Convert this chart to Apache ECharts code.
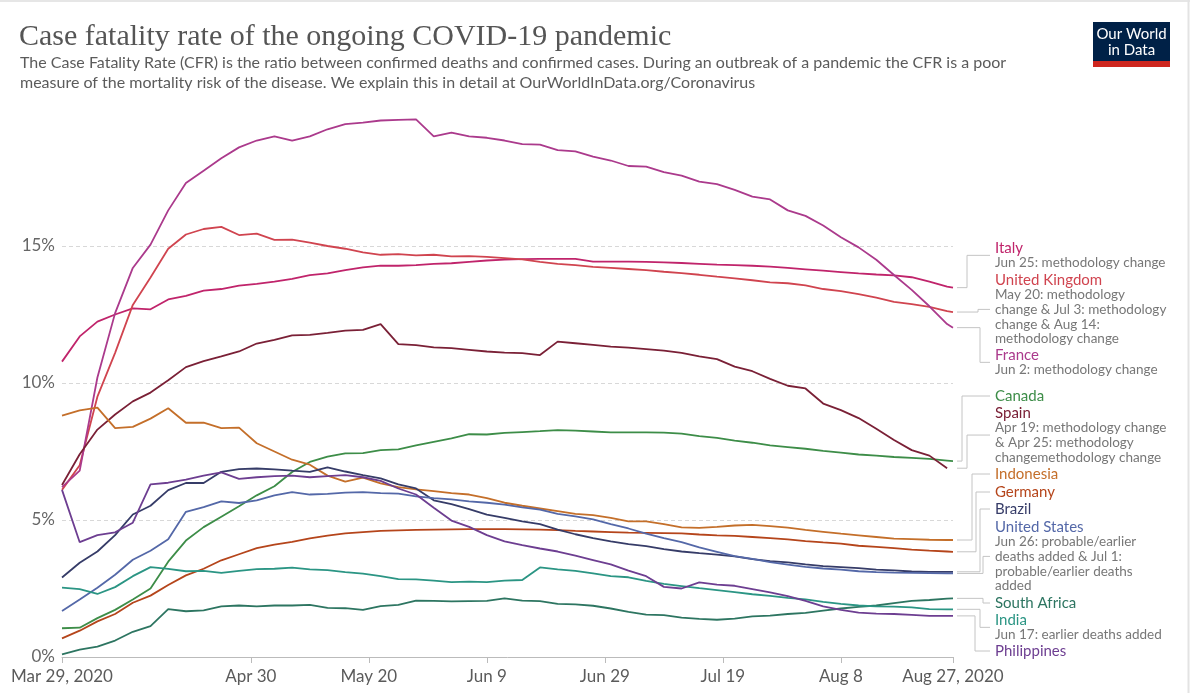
<!DOCTYPE html>
<html><head><meta charset="utf-8">
<script src="https://cdn.jsdelivr.net/npm/echarts@6/dist/echarts.min.js"></script>
<style>html,body{margin:0;padding:0;background:#fff}#c{width:1200px;height:693px}</style>
</head><body><div id="c"></div>
<script>
// Days since Mar 29, 2020 (sampled every 3 days, plus the last day)
const days = [0,3,6,9,12,15,18,21,24,27,30,33,36,39,42,45,48,51,54,57,60,63,66,69,72,75,78,81,84,87,90,93,96,99,102,105,108,111,114,117,120,123,126,129,132,135,138,141,144,147,150,151];

const france = [6.2,6.8,10.2,12.55,14.2,15.05,16.3,17.3,17.75,18.2,18.6,18.85,19.0,18.85,19.0,19.26,19.45,19.5,19.58,19.6,19.62,19.0,19.14,19.0,18.95,18.85,18.72,18.7,18.5,18.45,18.26,18.12,17.92,17.9,17.7,17.57,17.35,17.26,17.05,16.8,16.7,16.3,16.1,15.75,15.32,14.95,14.5,13.94,13.4,12.8,12.15,12.02];
const italy = [10.78,11.7,12.24,12.5,12.72,12.69,13.05,13.18,13.37,13.43,13.55,13.62,13.7,13.8,13.94,14.0,14.12,14.22,14.28,14.28,14.3,14.35,14.37,14.42,14.47,14.5,14.52,14.53,14.53,14.53,14.43,14.43,14.43,14.42,14.4,14.38,14.35,14.32,14.3,14.28,14.25,14.2,14.15,14.1,14.05,14.0,13.96,13.93,13.86,13.7,13.52,13.48];
const unitedKingdom = [6.1,7.0,9.5,11.1,12.85,13.85,14.9,15.42,15.62,15.7,15.4,15.45,15.22,15.23,15.12,15.0,14.9,14.77,14.68,14.7,14.66,14.68,14.62,14.63,14.6,14.56,14.51,14.42,14.35,14.3,14.24,14.2,14.16,14.12,14.06,14.01,13.95,13.88,13.82,13.75,13.67,13.64,13.56,13.43,13.35,13.24,13.12,12.96,12.88,12.78,12.62,12.59];
const spain = [6.28,7.4,8.3,8.85,9.33,9.65,10.1,10.58,10.8,10.97,11.15,11.44,11.57,11.74,11.76,11.83,11.91,11.94,12.15,11.42,11.38,11.3,11.27,11.21,11.15,11.11,11.09,11.02,11.51,11.45,11.39,11.33,11.29,11.24,11.18,11.1,10.97,10.87,10.6,10.43,10.15,9.9,9.8,9.25,9.01,8.72,8.33,7.92,7.55,7.35,6.89,null];
const canada = [1.05,1.07,1.42,1.72,2.1,2.5,3.48,4.25,4.74,5.12,5.5,5.9,6.23,6.75,7.12,7.31,7.43,7.44,7.55,7.58,7.72,7.85,7.98,8.13,8.12,8.18,8.21,8.24,8.28,8.26,8.23,8.2,8.2,8.2,8.19,8.15,8.06,8.0,7.9,7.82,7.72,7.66,7.6,7.52,7.46,7.39,7.35,7.3,7.27,7.23,7.17,7.15];
const indonesia = [8.81,9.0,9.1,8.35,8.4,8.7,9.08,8.55,8.55,8.35,8.37,7.8,7.5,7.2,7.02,6.62,6.4,6.55,6.34,6.2,6.12,6.05,5.98,5.93,5.8,5.63,5.52,5.42,5.32,5.22,5.18,5.08,4.95,4.95,4.85,4.73,4.71,4.75,4.8,4.82,4.78,4.72,4.64,4.57,4.5,4.44,4.38,4.32,4.3,4.28,4.27,4.27];
const germany = [0.68,0.96,1.3,1.57,1.98,2.24,2.63,2.98,3.22,3.53,3.75,3.97,4.1,4.2,4.33,4.43,4.51,4.56,4.6,4.62,4.64,4.65,4.66,4.67,4.67,4.67,4.66,4.65,4.63,4.6,4.58,4.56,4.54,4.53,4.52,4.51,4.47,4.44,4.42,4.38,4.34,4.29,4.23,4.18,4.14,4.06,4.02,3.97,3.92,3.88,3.85,3.84];
const brazil = [2.9,3.44,3.85,4.45,5.2,5.52,6.09,6.35,6.35,6.76,6.86,6.88,6.85,6.8,6.76,6.92,6.77,6.64,6.52,6.3,6.15,5.72,5.58,5.4,5.2,5.08,4.95,4.85,4.65,4.48,4.34,4.22,4.12,4.05,3.94,3.85,3.79,3.74,3.67,3.57,3.5,3.45,3.38,3.32,3.28,3.24,3.19,3.16,3.12,3.11,3.11,3.11];
const unitedStates = [1.68,2.1,2.53,3.0,3.55,3.88,4.3,5.3,5.47,5.68,5.62,5.72,5.9,6.02,5.93,5.95,6.0,6.02,5.98,5.96,5.86,5.8,5.75,5.68,5.63,5.56,5.46,5.38,5.22,5.13,5.02,4.85,4.69,4.5,4.34,4.19,4.0,3.84,3.68,3.58,3.46,3.37,3.29,3.23,3.19,3.13,3.1,3.08,3.07,3.06,3.05,3.05];
const southAfrica = [0.1,0.27,0.38,0.6,0.92,1.13,1.75,1.67,1.7,1.85,1.88,1.85,1.88,1.88,1.9,1.79,1.78,1.72,1.86,1.9,2.06,2.05,2.03,2.04,2.05,2.14,2.06,2.04,1.94,1.92,1.87,1.77,1.65,1.55,1.53,1.44,1.39,1.36,1.4,1.48,1.51,1.57,1.61,1.69,1.77,1.83,1.88,1.97,2.05,2.08,2.13,2.14];
const india = [2.53,2.48,2.3,2.55,2.95,3.28,3.22,3.13,3.14,3.07,3.14,3.21,3.22,3.26,3.2,3.17,3.1,3.04,2.95,2.84,2.83,2.79,2.73,2.75,2.73,2.79,2.81,3.27,3.2,3.14,3.05,2.95,2.91,2.78,2.67,2.59,2.51,2.44,2.37,2.29,2.23,2.16,2.1,2.01,1.94,1.88,1.85,1.84,1.81,1.75,1.74,1.74];
const philippines = [6.1,4.19,4.45,4.55,4.9,6.3,6.36,6.47,6.62,6.74,6.5,6.56,6.6,6.62,6.56,6.6,6.64,6.56,6.43,6.15,5.93,5.45,4.98,4.75,4.45,4.22,4.08,3.96,3.85,3.7,3.54,3.38,3.15,2.95,2.56,2.5,2.72,2.64,2.6,2.48,2.36,2.22,2.05,1.85,1.72,1.62,1.58,1.57,1.54,1.5,1.5,1.5];

const xTickDays = [0,32,52,72,92,112,132,151];
const xTickLabels = ['Mar 29, 2020','Apr 30','May 20','Jun 9','Jun 29','Jul 19','Aug 8','Aug 27, 2020'];
const yTicks = [0,5,10,15];

const countryNames = ['Italy','United Kingdom','France','Canada','Spain','Indonesia','Germany','Brazil','United States','South Africa','India','Philippines'];
const countryNotes = [
  ['Jun 25: methodology change'],
  ['May 20: methodology','change & Jul 3: methodology','change & Aug 14:','methodology change'],
  ['Jun 2: methodology change'],
  [],
  ['Apr 19: methodology change','& Apr 25: methodology','changemethodology change'],
  [],[],[],
  ['Jun 26: probable/earlier','deaths added & Jul 1:','probable/earlier deaths','added'],
  [],
  ['Jun 17: earlier deaths added'],
  []
];
const countryValues = [italy, unitedKingdom, france, canada, spain, indonesia, germany, brazil, unitedStates, southAfrica, india, philippines];
const countryColors = ['#c0246b','#d0444f','#ab3a8c','#3d8d48','#7a2036','#c46f2a','#b5451b','#363c68','#5468a8','#2d7561','#2b9584','#6d3e91'];

// label layout (text name center y, connector elbow x)
const labelNameY = [248,280,355,396,413,474,492,509,527,603,620,651];
const elbowX = [967,978,980,962,967,972,976,980,983,983,980,975];

const chart = echarts.init(document.getElementById('c'), null, {renderer:'canvas'});

const series = countryNames.map((n,k)=>({
  name:n, type:'line', symbol:'none', showSymbol:false, connectNulls:false,
  lineStyle:{width:1.8, color:countryColors[k]}, itemStyle:{color:countryColors[k]},
  emphasis:{disabled:true},
  data: days.map((d,i)=>[d, countryValues[k][i]])
}));

chart.setOption({
  animation:false,
  grid:{left:62, right:247, top:109, bottom:36, containLabel:false, outerBoundsMode:'none'},
  xAxis:{
    type:'value', min:0, max:151,
    axisLine:{show:true, lineStyle:{color:'#bbb', width:1}},
    axisTick:{show:true, customValues:xTickDays, length:6, lineStyle:{color:'#bbb'}},
    axisLabel:{customValues:xTickDays, formatter:(v)=>{const i=xTickDays.indexOf(Math.round(v)); return i>=0?xTickLabels[i]:'';},
      color:'#5b5b5b', fontSize:17, fontFamily:'Lato', margin:11, hideOverlap:false},
    splitLine:{show:false}
  },
  yAxis:{
    type:'value', min:0, max:20, interval:5,
    axisLine:{show:false}, axisTick:{show:false},
    axisLabel:{formatter:(v)=> yTicks.indexOf(v)>=0 ? v+'%' : '', color:'#666', fontSize:17, fontFamily:'Lato', margin:7, showMaxLabel:false},
    splitLine:{show:true, showMinLine:false, showMaxLine:false, lineStyle:{type:[4,3], color:'#d8d8d8', width:1}}
  },
  series: series
});

const g = [];
// frame
g.push({type:'line', shape:{x1:0,y1:1,x2:1190,y2:1}, style:{stroke:'#e6e6e6', lineWidth:2}, silent:true});
g.push({type:'line', shape:{x1:1188.5,y1:0,x2:1188.5,y2:693}, style:{stroke:'#e3e3e3', lineWidth:2}, silent:true});
// title & subtitle
g.push({type:'text', x:19, y:37, style:{text:'Case fatality rate of the ongoing COVID-19 pandemic', font:'30px "Liberation Serif"', fill:'#555', verticalAlign:'middle', align:'left'}});
g.push({type:'text', x:20, y:63, style:{text:'The Case Fatality Rate (CFR) is the ratio between confirmed deaths and confirmed cases. During an outbreak of a pandemic the CFR is a poor', font:'16px Lato', fill:'#5b5b5b', verticalAlign:'middle', align:'left'}});
g.push({type:'text', x:20, y:83, style:{text:'measure of the mortality risk of the disease. We explain this in detail at OurWorldInData.org/Coronavirus', font:'16px Lato', fill:'#5b5b5b', verticalAlign:'middle', align:'left'}});
// logo
g.push({type:'rect', shape:{x:1093,y:22,width:77,height:45}, style:{fill:'#002147'}});
g.push({type:'rect', shape:{x:1093,y:61,width:77,height:6}, style:{fill:'#ce261e'}});
g.push({type:'text', x:1131.5, y:34, style:{text:'Our World', font:'15px Lato', fill:'#fff', align:'center', verticalAlign:'middle'}});
g.push({type:'text', x:1131.5, y:50, style:{text:'in Data', font:'15px Lato', fill:'#fff', align:'center', verticalAlign:'middle'}});

// right-hand labels and connectors
const noteStep = 14.7;
countryNames.forEach((n,k)=>{
  const vals = countryValues[k];
  let i = vals.length-1; while (vals[i]==null) i--;
  const p = chart.convertToPixel({gridIndex:0}, [days[i], vals[i]]);
  const nameY = labelNameY[k];
  const notes = countryNotes[k];
  const blockTop = nameY - 8, blockBottom = nameY + 8 + notes.length*noteStep;
  const midY = (blockTop + blockBottom)/2;
  const x0 = 957, ex = elbowX[k], x1 = 990;
  g.push({type:'polyline', shape:{points:[[x0,p[1]],[ex,p[1]],[ex,midY],[x1,midY]]}, style:{stroke:'#c4c4c4', lineWidth:1, fill:null}, silent:true});
  g.push({type:'text', x:995, y:nameY, style:{text:n, font:'15px Lato', fill:countryColors[k], verticalAlign:'middle', align:'left'}});
  notes.forEach((t,j)=>{
    g.push({type:'text', x:995, y:nameY+15+j*noteStep, style:{text:t, font:'13.5px Lato', fill:'#777', verticalAlign:'middle', align:'left'}});
  });
});

chart.setOption({graphic:g});
</script>
</body></html>
